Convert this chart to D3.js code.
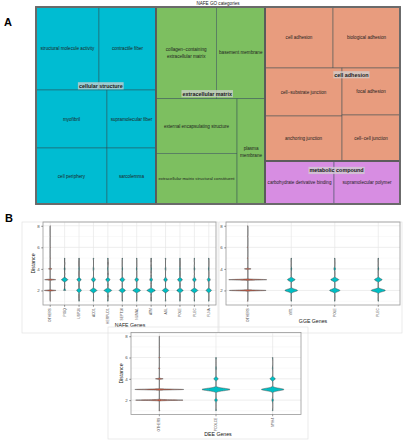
<!DOCTYPE html>
<html><head><meta charset="utf-8">
<script src="https://cdn.jsdelivr.net/npm/d3@7"></script>
<style>body{margin:0;background:#fff}svg{display:block}text{font-family:"Liberation Sans",Arial,sans-serif}</style>
</head><body><svg id="c" width="404" height="440"></svg>
<script>
// ---------------- DATA ----------------
const groupNames = ["cellular structure", "extracellular matrix", "cell adhesion", "metabolic compound"];
const groupColors = ["#00BCD2", "#7DBF60", "#E89C7E", "#D78DE2"];
const termNames = [
  "structural molecule activity", "contractile fiber", "myofibril", "supramolecular fiber", "cell periphery", "sarcolemma",
  "collagen\u2212containing extracellular matrix", "basement membrane", "external encapsulating structure", "extracellular matrix structural constituent", "plasma membrane",
  "cell adhesion", "biological adhesion", "cell\u2212substrate junction", "focal adhesion", "anchoring junction", "cell\u2212cell junction",
  "carbohydrate derivative binding", "supramolecular polymer"
];
const termGroups = [0,0,0,0,0,0, 1,1,1,1,1, 2,2,2,2,2,2, 3,3];
const termSizes = [5229,4731,4118,2842,3976,2744, 5550,4460,4440,4100,2950, 4148,4087,3696,2726,3465,2668, 2967,2838];

const distanceLevels = [1,2,3,4,5,6,7,8];
const yTicks = [2,4,6,8];

const nafeGenes = ["OTHERS","PIGQ","USP36","ADD1","HERPUD1","SEPT10","NUMA1","ATM","ASL","POLE","PLEC","FLNA"];
const nafeRange = [[1,8],[2,5],[1,5],[1,5],[1,5],[1,5],[1,5],[1,5],[1,5],[1,5],[1,5],[1,5]];
const nafeDensity = [
  [0.03,0.90,0.85,0.26,0.05,0.03,0.02,0.02],
  [0,0.15,0.47,0.05,0.03,0,0,0],
  [0.03,0.36,0.31,0.05,0.03,0,0,0],
  [0.03,0.51,0.31,0.05,0.03,0,0,0],
  [0.03,0.57,0.31,0.05,0.03,0,0,0],
  [0.03,0.47,0.36,0.05,0.03,0,0,0],
  [0.03,0.57,0.26,0.05,0.03,0,0,0],
  [0.03,0.62,0.20,0.05,0.03,0,0,0],
  [0.03,0.47,0.26,0.05,0.03,0,0,0],
  [0.03,0.47,0.36,0.05,0.03,0,0,0],
  [0.03,0.51,0.26,0.05,0.03,0,0,0],
  [0.03,0.40,0.22,0.05,0.03,0,0,0]
];

const ggeGenes = ["OTHERS","WT1","POLE","PLEC"];
const ggeRange = [[1,8],[1,5],[1,5],[1,5]];
const ggeDensity = [
  [0.02,0.94,0.97,0.17,0.03,0.02,0.01,0.01],
  [0.01,0.32,0.19,0.02,0.01,0,0,0],
  [0.01,0.26,0.20,0.04,0.01,0,0,0],
  [0.01,0.36,0.19,0.02,0.01,0,0,0]
];

const deeGenes = ["OTHERS","PCOLCE","MYH4"];
const deeRange = [[1,8],[1,6],[1,6]];
const deeDensity = [
  [0.02,0.93,0.96,0.15,0.03,0.02,0.01,0.01],
  [0.01,0.05,0.55,0.08,0.01,0.01,0,0],
  [0.01,0.03,0.44,0.10,0.01,0.01,0,0]
];

// ---------------- DRAW ----------------
const FONT = "Liberation Sans, Arial, sans-serif";
const svg = d3.select("#c");
svg.append("rect").attr("width",404).attr("height",440).attr("fill","#fff");

svg.append("text").attr("x",4).attr("y",26).attr("font-size",11).attr("font-weight","bold").attr("font-family",FONT).text("A");
svg.append("text").attr("x",5).attr("y",222).attr("font-size",11).attr("font-weight","bold").attr("font-family",FONT).text("B");

// ---- Treemap ----
const TM = {x:36, y:7, w:364, h:197};
const rootData = {name:"root", children: groupNames.map((g,gi)=>({
  name:g, gi, children: termNames.map((t,i)=>({name:t, gi:termGroups[i], size:termSizes[i]})).filter(d=>d.gi===gi)
}))};
const root = d3.hierarchy(rootData).sum(d=>d.size||0).sort((a,b)=>b.value-a.value);
d3.treemap().tile(d3.treemapSquarify.ratio(1)).size([TM.w, TM.h]).round(false)(root);

svg.append("text").attr("x",TM.x+TM.w/2).attr("y",5).attr("text-anchor","middle").attr("font-family",FONT)
  .attr("font-size",4.6).attr("fill","#222").text("NAFE GO categories");

const tg = svg.append("g").attr("transform",`translate(${TM.x},${TM.y})`);
const leaves = root.leaves();
tg.selectAll("rect.leaf").data(leaves).join("rect").attr("class","leaf")
  .attr("x",d=>d.x0).attr("y",d=>d.y0).attr("width",d=>d.x1-d.x0).attr("height",d=>d.y1-d.y0)
  .attr("fill",d=>groupColors[d.data.gi]).attr("stroke","#2f4a50").attr("stroke-opacity",0.75).attr("stroke-width",0.6);

leaves.forEach(d=>{
  const w = d.x1-d.x0, cx=(d.x0+d.x1)/2, cy=(d.y0+d.y1)/2;
  let fs = 4.6;
  const t = tg.append("text").attr("text-anchor","middle").attr("font-size",fs).attr("fill","#1e1e1e").attr("font-family",FONT);
  t.text(d.data.name);
  let len = t.node().getComputedTextLength();
  if (len > w - 4) {
    const words = d.data.name.split(" ");
    if (words.length > 1 && (d.data.name.length < 42) ) {
      let best = 1, bestLen = 1e9;
      for (let k=1;k<words.length;k++){
        const m = Math.max(words.slice(0,k).join(" ").length, words.slice(k).join(" ").length);
        if (m < bestLen){bestLen=m;best=k;}
      }
      t.text(null);
      t.append("tspan").attr("x",cx).attr("y",cy-1.4).text(words.slice(0,best).join(" "));
      t.append("tspan").attr("x",cx).attr("y",cy+5.6).text(words.slice(best).join(" "));
      return;
    }
    fs = fs*(w-5)/len; t.attr("font-size",fs);
  }
  t.attr("x",cx).attr("y",cy+fs*0.35);
});

const groupsN = root.children;
tg.selectAll("rect.grp").data(groupsN).join("rect").attr("class","grp")
  .attr("x",d=>d.x0).attr("y",d=>d.y0).attr("width",d=>d.x1-d.x0).attr("height",d=>d.y1-d.y0)
  .attr("fill","none").attr("stroke","#5a5a5a").attr("stroke-width",1.6);
tg.append("rect").attr("x",0).attr("y",0).attr("width",TM.w).attr("height",TM.h)
  .attr("fill","none").attr("stroke","#6b6b6b").attr("stroke-width",1.8);

const labelFrac = [[0.54,0.40],[0.47,0.44],[0.64,0.44],[0.53,0.22]];
groupsN.forEach(g=>{
  const f = labelFrac[g.data.gi];
  const cx = g.x0 + (g.x1-g.x0)*f[0], cy = g.y0 + (g.y1-g.y0)*f[1];
  const t = tg.append("text").attr("x",cx).attr("y",cy+1.9).attr("text-anchor","middle").attr("font-family",FONT)
    .attr("font-size",5.4).attr("font-weight","bold").attr("fill","#1a1a1a").text(g.data.name);
  const bb = t.node().getBBox();
  tg.insert("rect", () => t.node()).attr("x",bb.x-1).attr("y",cy-3.6).attr("width",bb.width+2).attr("height",7.2)
    .attr("fill","#d0d0d0").attr("fill-opacity",0.75);
});

// ---- Violin panels ----
function violinPanel(cfg){
  const {x0,x1,y0,y1,genes,dens,ranges,xlab,ylab,frame} = cfg;
  const g = svg.append("g");
  if (frame) g.append("rect").attr("x",frame[0]).attr("y",frame[1]).attr("width",frame[2]-frame[0]).attr("height",frame[3]-frame[1])
      .attr("fill","none").attr("stroke","#e2e2e2").attr("stroke-width",0.7);
  const x = d3.scaleBand().domain(genes).range([x0,x1]).padding(0);
  const y = d3.scaleLinear().domain([0.65,8.35]).range([y1,y0]);
  [1,3,5,7].forEach(v=>g.append("line").attr("x1",x0).attr("x2",x1).attr("y1",y(v)).attr("y2",y(v)).attr("stroke","#f3f3f3").attr("stroke-width",0.5));
  yTicks.forEach(v=>g.append("line").attr("x1",x0).attr("x2",x1).attr("y1",y(v)).attr("y2",y(v)).attr("stroke","#e6e6e6").attr("stroke-width",0.7));
  genes.forEach(gn=>g.append("line").attr("x1",x(gn)+x.bandwidth()/2).attr("x2",x(gn)+x.bandwidth()/2).attr("y1",y0).attr("y2",y1).attr("stroke","#e6e6e6").attr("stroke-width",0.7));
  const maxHalf = x.bandwidth()*0.45;
  const w = d3.scaleLinear().domain([0,1]).range([0,maxHalf]);
  genes.forEach((gn,i)=>{
    const cx = x(gn)+x.bandwidth()/2;
    const bw = gn==="OTHERS" ? 0.03 : 0.11;
    const [lo,hi] = ranges[i];
    const pts = d3.range(0,1201).map(k=>{
      const v = lo + (hi-lo)*k/1200;
      let d = 0;
      dens[i].forEach((a,j)=>{ d += a*Math.exp(-((v-distanceLevels[j])**2)/(2*bw*bw)); });
      return [v,d];
    });
    const area = d3.area().y(p=>y(p[0])).x0(p=>cx-w(p[1])).x1(p=>cx+w(p[1]));
    g.append("path").attr("d",area(pts)).attr("fill",gn==="OTHERS"?"#C8553D":"#00BFC4")
      .attr("stroke","#5a5a5a").attr("stroke-width",0.55).attr("stroke-linejoin","round");
  });
  g.append("rect").attr("x",x0).attr("y",y0).attr("width",x1-x0).attr("height",y1-y0)
    .attr("fill","none").attr("stroke","#9a9a9a").attr("stroke-width",0.8);
  const ya = g.append("g").attr("transform",`translate(${x0},0)`).call(d3.axisLeft(y).tickValues(yTicks).tickSize(1.8).tickPadding(1.5));
  ya.select(".domain").remove();
  ya.selectAll("line").attr("stroke","#333").attr("stroke-width",0.5);
  ya.selectAll("text").attr("font-size",4.4).attr("fill","#4d4d4d").attr("font-family",FONT);
  const xa = g.append("g").attr("transform",`translate(0,${y1})`).call(d3.axisBottom(x).tickSize(1.8).tickPadding(1.5));
  xa.select(".domain").remove();
  xa.selectAll("line").attr("stroke","#333").attr("stroke-width",0.5);
  xa.selectAll("text").attr("font-size",3.3).attr("fill","#4d4d4d").attr("font-family",FONT)
    .attr("transform","rotate(-90)").attr("text-anchor","end").attr("dy","0.35em").attr("x",-3.2).attr("y",0);
  g.append("text").attr("x",cfg.xlabPos[0]).attr("y",cfg.xlabPos[1]).attr("text-anchor","middle").attr("font-family",FONT)
    .attr("font-size",5.2).attr("fill","#111").text(xlab);
  if (ylab) g.append("text").attr("transform",`translate(${cfg.ylabX},${(y0+y1)/2}) rotate(-90)`).attr("text-anchor","middle")
    .attr("font-family",FONT).attr("font-size",5.2).attr("fill","#111").text(ylab);
}

violinPanel({x0:43,x1:216,y0:222,y1:305,genes:nafeGenes,dens:nafeDensity,ranges:nafeRange,
  xlab:"NAFE Genes",xlabPos:[130,327],ylab:"Distance",ylabX:35,frame:[22,222,218,333]});
violinPanel({x0:226,x1:400,y0:222,y1:305,genes:ggeGenes,dens:ggeDensity,ranges:ggeRange,
  xlab:"GGE Genes",xlabPos:[313,323],ylab:null,frame:[219,222,402,333]});
violinPanel({x0:131,x1:301,y0:332.5,y1:414.5,genes:deeGenes,dens:deeDensity,ranges:deeRange,
  xlab:"DEE Genes",xlabPos:[218,436],ylab:"Distance",ylabX:123,frame:[108,327,308,439]});
</script></body></html>
